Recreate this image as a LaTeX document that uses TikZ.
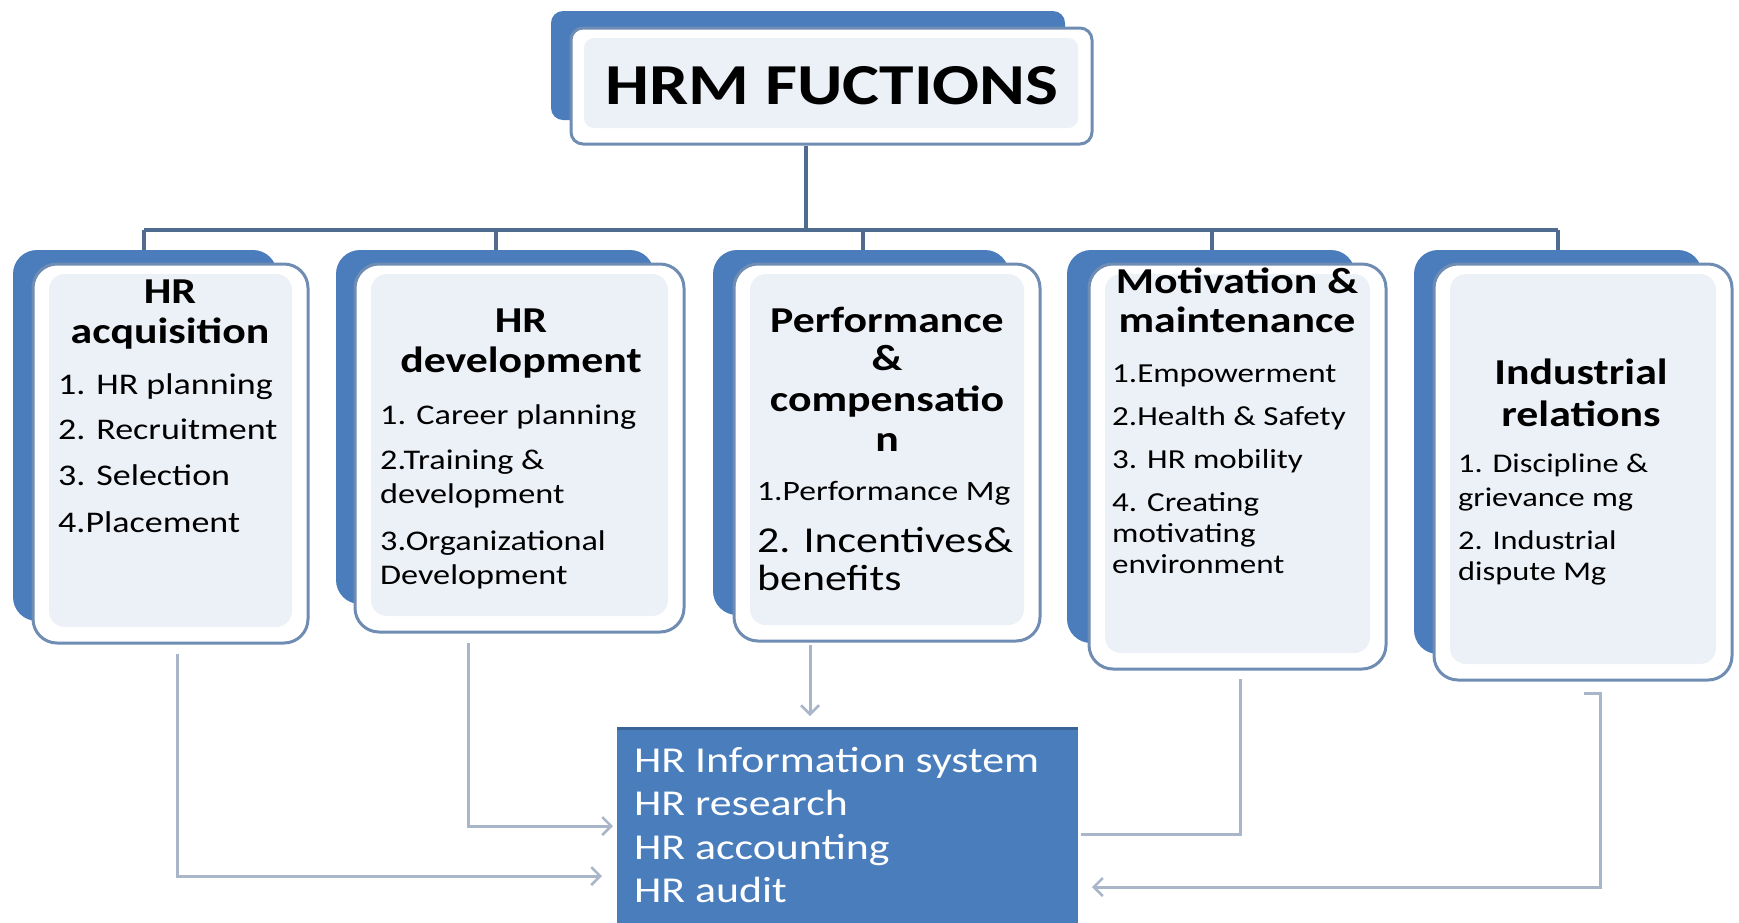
\documentclass[tikz,border=0pt]{standalone}
\usepackage{fontspec}
\setmainfont{Carlito}[FakeStretch=1.2]
\usetikzlibrary{arrows.meta,backgrounds}
\definecolor{backblue}{HTML}{4B7DBD}
\definecolor{cardedge}{HTML}{6F8CB3}
\definecolor{panelfill}{HTML}{ECF0F7}
\definecolor{busline}{HTML}{4F6B8F}
\definecolor{flowline}{HTML}{A9B6CA}
\definecolor{infofill}{HTML}{4A7DBC}
\definecolor{infoedge}{HTML}{3A6398}
\begin{document}
\begin{tikzpicture}[x=1pt,y=-1pt,
  card/.style={draw=cardedge,line width=3pt,fill=white,rounded corners=24pt,inner sep=0pt},
  backcard/.style={fill=backblue,rounded corners=24pt},
  panel/.style={fill=panelfill,rounded corners=16pt},
  hd/.style={anchor=base,inner sep=0pt,font=\fontsize{36.5}{40}\selectfont\bfseries},
  itm/.style={anchor=base west,inner sep=0pt},
  bus/.style={draw=busline,line width=3.5pt},
  flow/.style={draw=flowline,line width=3pt},
  flowarrow/.style={flow,-{Straight Barb[length=9pt,width=18pt,line width=2.5pt]}},
  infotext/.style={anchor=base west,inner sep=0pt,text=white,font=\fontsize{36.5}{40}\selectfont}]
\useasboundingbox (0,0) rectangle (1739,922);

% ---------- title ----------
\fill[backblue,rounded corners=12pt] (551,11) rectangle (1065,120);
\node[card,rounded corners=12pt,minimum width=521pt,minimum height=116pt] (top) at (831.5,86) {};
\fill[panelfill,rounded corners=10pt] (584,38) rectangle (1078,128);
\node[anchor=base,inner sep=0pt,font=\fontsize{58}{60}\selectfont\bfseries] (ttl) at (832,104) {HRM FUCTIONS};

% ---------- function cards ----------
\fill[backcard] (13,250) rectangle (277,621);
\node[card,minimum width=275pt,minimum height=379pt] (b1) at (170.5,453.5) {};
\fill[panel] (49,274) rectangle (292,627);

\fill[backcard] (336,250) rectangle (654,604);
\node[card,minimum width=329pt,minimum height=368pt] (b2) at (519.5,448) {};
\fill[panel] (371,274) rectangle (668,616);

\fill[backcard] (713,250) rectangle (1009,615);
\node[card,minimum width=306pt,minimum height=377pt] (b3) at (887,452.5) {};
\fill[panel] (750,274) rectangle (1024,625);

\fill[backcard] (1067,250) rectangle (1355,643);
\node[card,minimum width=297pt,minimum height=405pt] (b4) at (1237.5,466.5) {};
\fill[panel] (1105,274) rectangle (1370,653);

\fill[backcard] (1414,250) rectangle (1702,654);
\node[card,minimum width=298pt,minimum height=416pt] (b5) at (1583,472) {};
\fill[panel] (1450,274) rectangle (1716,664);

% ---------- hierarchy lines ----------
\coordinate (j0) at (806,230);
\coordinate (j1) at (144,230);
\coordinate (j2) at (496,230);
\coordinate (j3) at (863,230);
\coordinate (j4) at (1212,230);
\coordinate (j5) at (1558,230);
\begin{scope}[on background layer]
  \draw[bus] ([xshift=-25.5pt]top.south) -- (j0);
  \draw[bus] (j1) -- (j5);
  \draw[bus] (j1) -- (j1 |- b1.north);
  \draw[bus] (j2) -- (j2 |- b2.north);
  \draw[bus] (j3) -- (j3 |- b3.north);
  \draw[bus] (j4) -- (j4 |- b4.north);
  \draw[bus] (j5) -- (j5 |- b5.north);
\end{scope}

% ---------- card texts ----------
\node[hd] (h1a) at (170,303) {HR};
\node[hd] (h1b) at (170,343) {acquisition};
\begin{scope}[font=\fontsize{30}{34}\selectfont]
  \node[itm] (t11) at (58,394) {1. HR planning};
  \node[itm] (t12) at (58,439) {2. Recruitment};
  \node[itm] (t13) at (58,485) {3. Selection};
  \node[itm] (t14) at (58,532) {4.Placement};
\end{scope}

\node[hd] (h2a) at (521,332) {HR};
\node[hd] (h2b) at (521,372) {development};
\begin{scope}[font=\fontsize{28.5}{34}\selectfont]
  \node[itm] (t21) at (380,424) {1. Career planning};
  \node[itm] (t22) at (380,469) {2.Training \&};
  \node[itm] (t23) at (380,503) {development};
  \node[itm] (t24) at (380,550) {3.Organizational};
  \node[itm] (t25) at (380,584) {Development};
\end{scope}

\node[hd] (h3a) at (887,332) {Performance};
\node[hd] (h3b) at (887,370) {\&};
\node[hd] (h3c) at (887,411) {compensatio};
\node[hd] (h3d) at (887,451) {n};
\node[itm,font=\fontsize{28}{34}\selectfont] (t31) at (757,500) {1.Performance Mg};
\begin{scope}[font=\fontsize{36.5}{40}\selectfont]
  \node[itm] (t32) at (757,552) {2. Incentives\&};
  \node[itm] (t33) at (757,590) {benefits};
\end{scope}

\node[hd] (h4a) at (1237,293) {Motivation \&};
\node[hd] (h4b) at (1237,332) {maintenance};
\begin{scope}[font=\fontsize{27.5}{32}\selectfont]
  \node[itm] (t41) at (1112,382) {1.Empowerment};
  \node[itm] (t42) at (1112,425) {2.Health \& Safety};
  \node[itm] (t43) at (1112,468) {3. HR mobility};
  \node[itm] (t44) at (1112,511) {4. Creating};
  \node[itm] (t45) at (1112,542) {motivating};
  \node[itm] (t46) at (1112,573) {environment};
\end{scope}

\node[hd] (h5a) at (1581,384) {Industrial};
\node[hd] (h5b) at (1581,426) {relations};
\begin{scope}[font=\fontsize{27}{32}\selectfont]
  \node[itm] (t51) at (1458,472) {1. Discipline \&};
  \node[itm] (t52) at (1458,506) {grievance mg};
  \node[itm] (t53) at (1458,549) {2. Industrial};
  \node[itm] (t54) at (1458,580) {dispute Mg};
\end{scope}

% ---------- support functions ----------
\node[fill=infofill,inner sep=0pt,minimum width=461pt,minimum height=205pt] (hris) at (847.5,831.5) {};
\draw[infoedge,line width=3pt] (hris.north west) -- (hris.north east);
\node[infotext] (s1) at (634,772) {HR Information system};
\node[infotext] (s2) at (634,815) {HR research};
\node[infotext] (s3) at (634,859) {HR accounting};
\node[infotext] (s4) at (634,902) {HR audit};

% ---------- flows into the support box ----------
\coordinate (f1) at (177,654);  \coordinate (e1) at (602,876);
\coordinate (f2) at (468,643);  \coordinate (e2) at (613,826);
\coordinate (f3) at (810,645);  \coordinate (e3) at (810,716);
\coordinate (f4) at (1240,679); \coordinate (e4) at (1081,834);
\coordinate (f5) at (1584,693); \coordinate (k5) at (1600,693);
\coordinate (e5) at (1092,887);
\draw[flowarrow] (f1) |- (e1);
\draw[flowarrow] (f2) |- (e2);
\draw[flowarrow] (f3) -- (e3);
\draw[flow] (f4) |- (e4);
\draw[flowarrow] (f5) -- (k5) |- (e5);
\end{tikzpicture}
\end{document}
